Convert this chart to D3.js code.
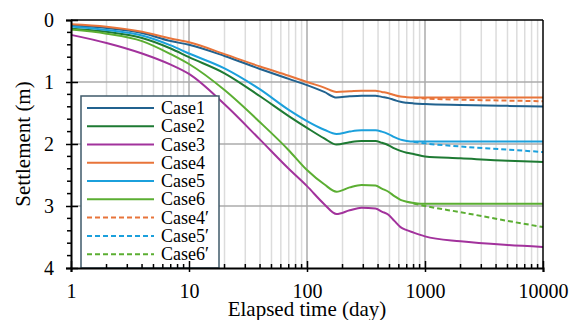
<!DOCTYPE html>
<html lang="en">
<meta charset="utf-8">
<head>
    <script src="https://d3js.org/d3.v7.min.js"></script>
    <style>
        body { margin: 0; background: #fff; }
    </style>
</head>
<body>
<script>
    // elapsed time (day) where the curves were read
    var times = [1, 2, 4, 7, 10, 20, 40, 70, 100, 140, 178, 230, 290, 380, 430, 490, 550, 620, 700, 800, 1000, 2000, 5000, 10000];

    var case1 = [0.09, 0.13, 0.21, 0.34, 0.40, 0.58, 0.79, 0.95, 1.05, 1.16, 1.25, 1.23, 1.22, 1.22, 1.24, 1.26, 1.29, 1.32, 1.335, 1.345, 1.355, 1.37, 1.385, 1.395];
    var case2 = [0.14, 0.19, 0.29, 0.46, 0.60, 0.86, 1.23, 1.55, 1.74, 1.91, 2.01, 1.97, 1.95, 1.95, 1.98, 2.02, 2.07, 2.11, 2.14, 2.16, 2.20, 2.23, 2.27, 2.29];
    var case3 = [0.24, 0.37, 0.54, 0.72, 0.87, 1.36, 1.93, 2.40, 2.68, 2.97, 3.13, 3.07, 3.03, 3.04, 3.09, 3.14, 3.24, 3.34, 3.39, 3.43, 3.49, 3.57, 3.63, 3.66];
    var case4 = [0.07, 0.11, 0.19, 0.30, 0.36, 0.55, 0.75, 0.90, 1.00, 1.09, 1.16, 1.15, 1.14, 1.14, 1.16, 1.18, 1.21, 1.235, 1.245, 1.25, 1.25, 1.25, 1.25, 1.25];
    var case5 = [0.105, 0.16, 0.25, 0.41, 0.54, 0.78, 1.12, 1.45, 1.63, 1.77, 1.84, 1.80, 1.78, 1.78, 1.80, 1.84, 1.89, 1.93, 1.95, 1.96, 1.96, 1.96, 1.96, 1.96];
    var case6 = [0.155, 0.22, 0.34, 0.55, 0.71, 1.13, 1.65, 2.10, 2.42, 2.65, 2.77, 2.70, 2.66, 2.67, 2.72, 2.77, 2.84, 2.90, 2.93, 2.95, 2.965, 2.965, 2.965, 2.965];

    // the primed cases split off the solid ones after ~800 days
    var timesLate = [800, 1000, 2000, 5000, 10000];
    var case4p = [1.25, 1.265, 1.285, 1.30, 1.31];
    var case5p = [1.965, 1.99, 2.04, 2.09, 2.13];
    var case6p = [2.96, 3.00, 3.10, 3.24, 3.34];

    var xTicks = [1, 10, 100, 1000, 10000];
    var yTicks = [0, 1, 2, 3, 4];

    var series = [
        {name: "Case1", t: times, s: case1, color: "#21628f", dash: null},
        {name: "Case2", t: times, s: case2, color: "#1e7a33", dash: null},
        {name: "Case3", t: times, s: case3, color: "#a2329c", dash: null},
        {name: "Case4", t: times, s: case4, color: "#e8743a", dash: null},
        {name: "Case5", t: times, s: case5, color: "#1ba0dc", dash: null},
        {name: "Case6", t: times, s: case6, color: "#5bae32", dash: null},
        {name: "Case4\u2032", t: timesLate, s: case4p, color: "#e8743a", dash: "5,3"},
        {name: "Case5\u2032", t: timesLate, s: case5p, color: "#1ba0dc", dash: "5,3"},
        {name: "Case6\u2032", t: timesLate, s: case6p, color: "#5bae32", dash: "5,3"}
    ];

    var serif = "Liberation Serif";
    var width = 576, height = 320;
    var pLeft = 71, pRight = 543, pTop = 20, pBottom = 268;

    var svg = d3.select("body")
        .append("svg")
        .attr("width", width)
        .attr("height", height)
        .attr("font-family", serif);

    var x = d3.scaleLog()
        .domain([1, 10000])
        .range([pLeft, pRight]);

    var y = d3.scaleLinear()
        .domain([0, 4])
        .range([pTop, pBottom]);

    // minor values 2..9 of each decade
    var minors = [];
    for (var p = 1; p < 10000; p *= 10) {
        for (var k = 2; k < 10; k++) minors.push(p * k);
    }

    // grid
    svg.append("g")
        .selectAll("line")
        .data(minors)
        .enter()
        .append("line")
        .attr("x1", function(d) { return x(d) })
        .attr("x2", function(d) { return x(d) })
        .attr("y1", pTop)
        .attr("y2", pBottom)
        .attr("stroke", "#dcdcdc")
        .attr("stroke-width", 1.5);

    svg.append("g")
        .selectAll("line")
        .data([10, 100, 1000])
        .enter()
        .append("line")
        .attr("x1", function(d) { return x(d) })
        .attr("x2", function(d) { return x(d) })
        .attr("y1", pTop)
        .attr("y2", pBottom)
        .attr("stroke", "#ababab")
        .attr("stroke-width", 1.5);

    svg.append("g")
        .selectAll("line")
        .data([1, 2, 3])
        .enter()
        .append("line")
        .attr("x1", pLeft)
        .attr("x2", pRight)
        .attr("y1", function(d) { return y(d) })
        .attr("y2", function(d) { return y(d) })
        .attr("stroke", "#ababab")
        .attr("stroke-width", 1.5);

    // curves
    var line = d3.line()
        .x(function(d) { return x(d[0]) })
        .y(function(d) { return y(d[1]) })
        .curve(d3.curveMonotoneX);

    svg.append("g")
        .selectAll("path")
        .data(series)
        .enter()
        .append("path")
        .attr("d", function(d) {
            return line(d.t.map(function(t, i) { return [t, d.s[i]] }))
        })
        .attr("fill", "none")
        .attr("stroke", function(d) { return d.color })
        .attr("stroke-width", 2)
        .attr("stroke-dasharray", function(d) { return d.dash });

    // frame top / right
    svg.append("line")
        .attr("x1", pLeft).attr("x2", pRight)
        .attr("y1", pTop).attr("y2", pTop)
        .attr("stroke", "#000").attr("stroke-width", 1.5);
    svg.append("line")
        .attr("x1", pRight).attr("x2", pRight)
        .attr("y1", pTop).attr("y2", pBottom)
        .attr("stroke", "#000").attr("stroke-width", 1.5);

    // legend
    var legend = svg.append("g");
    legend.append("rect")
        .attr("x", 81)
        .attr("y", 96)
        .attr("width", 138)
        .attr("height", pBottom - 96)
        .attr("fill", "#fff")
        .attr("stroke", "#3f5a69")
        .attr("stroke-width", 1.5);

    var item = legend.selectAll(".item")
        .data(series)
        .enter()
        .append("g")
        .attr("class", "item")
        .attr("transform", function(d, i) { return "translate(0," + (108 + i * 18.27) + ")" });

    item.append("line")
        .attr("x1", 87)
        .attr("x2", 154)
        .attr("stroke", function(d) { return d.color })
        .attr("stroke-width", 2)
        .attr("stroke-dasharray", function(d) { return d.dash });

    item.append("text")
        .attr("x", 161)
        .attr("y", 6)
        .attr("font-family", serif)
        .attr("font-size", 18)
        .text(function(d) { return d.name });

    // x axis
    var xAxis = svg.append("g")
        .attr("transform", "translate(0," + pBottom + ")")
        .call(d3.axisBottom(x)
            .tickValues(xTicks)
            .tickFormat(d3.format("d"))
            .tickSize(4)
            .tickPadding(12));
    xAxis.attr("font-family", serif).attr("font-size", 20);
    xAxis.select(".domain").attr("stroke-width", 2);
    xAxis.selectAll(".tick line").attr("y1", -7).attr("stroke-width", 1.5);
    xAxis.selectAll(".tick text").attr("fill", "#000");

    svg.append("g")
        .selectAll("line")
        .data(minors)
        .enter()
        .append("line")
        .attr("x1", function(d) { return x(d) })
        .attr("x2", function(d) { return x(d) })
        .attr("y1", pBottom - 4)
        .attr("y2", pBottom)
        .attr("stroke", "#000")
        .attr("stroke-width", 1.5);

    // y axis
    var yAxis = svg.append("g")
        .attr("transform", "translate(" + pLeft + ",0)")
        .call(d3.axisLeft(y)
            .tickValues(yTicks)
            .tickFormat(d3.format("d"))
            .tickSize(5)
            .tickPadding(12));
    yAxis.attr("font-family", serif).attr("font-size", 20);
    yAxis.select(".domain").attr("stroke-width", 2);
    yAxis.selectAll(".tick line").attr("x1", 7).attr("stroke-width", 1.5);
    yAxis.selectAll(".tick text").attr("fill", "#000");

    svg.append("g")
        .selectAll("line")
        .data(d3.range(0.2, 4, 0.2).filter(function(d) { return Math.abs(d - Math.round(d)) > 0.01 }))
        .enter()
        .append("line")
        .attr("x1", pLeft - 4)
        .attr("x2", pLeft)
        .attr("y1", function(d) { return y(d) })
        .attr("y2", function(d) { return y(d) })
        .attr("stroke", "#000")
        .attr("stroke-width", 1.5);

    // axis titles
    svg.append("text")
        .attr("x", (pLeft + pRight) / 2)
        .attr("y", 316)
        .attr("text-anchor", "middle")
        .attr("font-family", serif)
        .attr("font-size", 21)
        .text("Elapsed time (day)");

    svg.append("text")
        .attr("transform", "translate(30," + ((pTop + pBottom) / 2) + ") rotate(-90)")
        .attr("text-anchor", "middle")
        .attr("font-family", serif)
        .attr("font-size", 21)
        .text("Settlement (m)");
</script>
</body>
</html>
